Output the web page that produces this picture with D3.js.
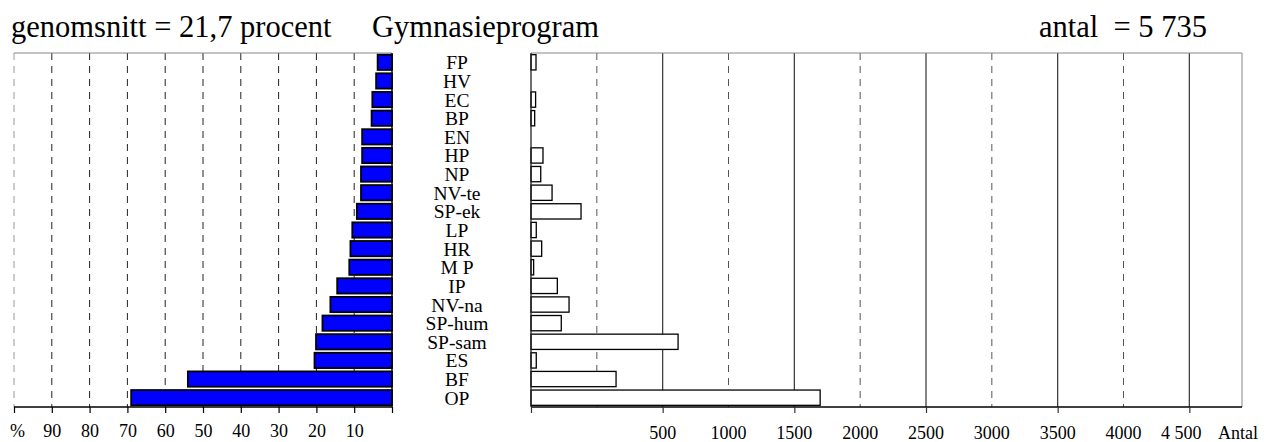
<!DOCTYPE html>
<html>
<head>
<meta charset="utf-8">
<script src="https://cdn.jsdelivr.net/npm/d3@7/dist/d3.min.js"></script>
<style>
  html, body { margin: 0; padding: 0; background: #fff; }
  svg { display: block; }
  text { font-family: "Liberation Serif", "Times New Roman", serif; fill: #000; }
</style>
</head>
<body>
<svg id="chart" width="1264" height="442"></svg>
<script>
// ---- data ----
const categories = ["FP","HV","EC","BP","EN","HP","NP","NV-te","SP-ek","LP","HR","M P","IP","NV-na","SP-hum","SP-sam","ES","BF","OP"];
const percentValues = [3.8, 4.2, 5.2, 5.4, 7.9, 7.9, 8.2, 8.2, 9.3, 10.5, 11.0, 11.3, 14.5, 16.3, 18.4, 20.1, 20.5, 54.0, 69.0];
const countValues = [38, 0, 35, 28, 0, 91, 74, 160, 380, 40, 81, 20, 200, 289, 230, 1117, 40, 646, 2196];
const pctTicks = [100, 90, 80, 70, 60, 50, 40, 30, 20, 10];
const pctTickLabels = ["%", "90", "80", "70", "60", "50", "40", "30", "20", "10"];
const cntGridDashed = [500, 1500, 2500, 3500, 4500];
const cntGridSolid = [1000, 2000, 3000, 4000, 5000];
const cntTickLabels = ["500", "1000", "1500", "2000", "2500", "3000", "3500", "4000", "4 500"];
const cntLabelPositions = [1000, 1500, 2000, 2500, 3000, 3500, 4000, 4500, 5000];
const titleLeft = "genomsnitt = 21,7 procent";
const titleMid = "Gymnasieprogram";
const titleRight = "antal  = 5 735";
const axisRightLabel = "Antal";

// ---- layout ----
const svg = d3.select("#chart");
const yTop = 53, yBottom = 407;
const xL = d3.scaleLinear().domain([0, 100]).range([392, 14]);
const xR = d3.scaleLinear().domain([0, 5400]).range([531, 1242]);
const y = d3.scaleBand().domain(categories).range([yTop, yBottom]).paddingInner(0.18).paddingOuter(0.09);

// titles
svg.append("text").attr("x", 11).attr("y", 37).attr("font-size", 30.5).style("white-space", "pre").text(titleLeft);
svg.append("text").attr("x", 372).attr("y", 37).attr("font-size", 30.5).style("white-space", "pre").text(titleMid);
svg.append("text").attr("x", 1039).attr("y", 37).attr("font-size", 30.5).style("white-space", "pre").text(titleRight);

// ---- left panel ----
const gL = svg.append("g");
gL.selectAll("line.grid").data(pctTicks).join("line")
  .attr("x1", d => xL(d)).attr("x2", d => xL(d))
  .attr("y1", yTop).attr("y2", yBottom)
  .attr("stroke", d => d === 100 ? "#999" : "#222")
  .attr("stroke-width", 1)
  .attr("stroke-dasharray", "7,6");
gL.append("line").attr("x1", xL(100)).attr("x2", xL(0)).attr("y1", yTop).attr("y2", yTop)
  .attr("stroke", "#888").attr("stroke-width", 1.2);
gL.selectAll("rect.bar").data(categories).join("rect")
  .attr("x", (d, i) => xL(percentValues[i]))
  .attr("y", d => y(d))
  .attr("width", (d, i) => xL(0) - xL(percentValues[i]))
  .attr("height", y.bandwidth())
  .attr("fill", "#0000ff")
  .attr("stroke", "#000")
  .attr("stroke-width", 1.8);
gL.append("line").attr("x1", xL(0)).attr("x2", xL(0)).attr("y1", yTop).attr("y2", yBottom)
  .attr("stroke", "#000").attr("stroke-width", 1.4);
const axL = d3.axisBottom(xL).tickValues(pctTicks.concat([0])).tickSize(6)
  .tickFormat(d => { const i = pctTicks.indexOf(d); return i >= 0 ? pctTickLabels[i] : ""; });
const axLg = svg.append("g").attr("transform", `translate(0,${yBottom})`).call(axL);
axLg.select(".domain").attr("stroke", "#000").attr("stroke-width", 1.4).attr("d", `M${xL(100)},0H${xL(0)}`);
axLg.selectAll(".tick line").attr("stroke", "#000").attr("stroke-width", 1.2);
axLg.selectAll(".tick text").attr("font-size", 18).attr("y", 17).attr("fill", "#000")
  .attr("dx", d => d === 100 ? 3 : 0);

// ---- category labels ----
svg.selectAll("text.cat").data(categories).join("text")
  .attr("class", "cat")
  .attr("x", 457)
  .attr("y", d => y(d) + y.bandwidth() / 2)
  .attr("dy", "0.36em")
  .attr("text-anchor", "middle")
  .attr("font-size", 19.5)
  .style("white-space", "pre")
  .text(d => d);

// ---- right panel ----
const gR = svg.append("g");
gR.selectAll("line.dg").data(cntGridDashed).join("line")
  .attr("x1", d => xR(d)).attr("x2", d => xR(d)).attr("y1", yTop).attr("y2", yBottom)
  .attr("stroke", "#555").attr("stroke-width", 1).attr("stroke-dasharray", "7,6");
gR.selectAll("line.sg").data(cntGridSolid).join("line")
  .attr("x1", d => xR(d)).attr("x2", d => xR(d)).attr("y1", yTop).attr("y2", yBottom)
  .attr("stroke", "#333").attr("stroke-width", 1.2);
gR.append("line").attr("x1", xR(0)).attr("x2", xR(5400)).attr("y1", yTop).attr("y2", yTop)
  .attr("stroke", "#888").attr("stroke-width", 1.2);
gR.append("line").attr("x1", xR(5400)).attr("x2", xR(5400)).attr("y1", yTop).attr("y2", yBottom)
  .attr("stroke", "#999").attr("stroke-width", 1.2);
gR.selectAll("rect.bar").data(categories.filter((d, i) => countValues[i] > 0)).join("rect")
  .attr("x", xR(0))
  .attr("y", d => y(d))
  .attr("width", d => xR(countValues[categories.indexOf(d)]) - xR(0))
  .attr("height", y.bandwidth())
  .attr("fill", "#fff")
  .attr("stroke", "#000")
  .attr("stroke-width", 1.3);
gR.append("line").attr("x1", xR(0)).attr("x2", xR(0)).attr("y1", yTop).attr("y2", yBottom)
  .attr("stroke", "#222").attr("stroke-width", 1.3);
const axR = d3.axisBottom(xR).tickValues([0].concat(cntGridSolid)).tickSize(6).tickFormat("");
const axRg = svg.append("g").attr("transform", `translate(0,${yBottom})`).call(axR);
axRg.select(".domain").attr("stroke", "#000").attr("stroke-width", 1.4).attr("d", `M${xR(0)},0H${xR(5400)}`);
axRg.selectAll(".tick line").attr("stroke", "#333").attr("stroke-width", 1.2);
svg.selectAll("text.cl").data(cntTickLabels).join("text")
  .attr("class", "cl")
  .attr("x", (d, i) => xR(cntLabelPositions[i]) - (d === "4 500" ? 8 : 0))
  .attr("y", 439)
  .attr("text-anchor", "middle")
  .attr("font-size", 18)
  .style("white-space", "pre")
  .text(d => d);
svg.append("text").attr("x", 1238).attr("y", 439).attr("text-anchor", "middle")
  .attr("font-size", 18).text(axisRightLabel);
</script>
</body>
</html>
